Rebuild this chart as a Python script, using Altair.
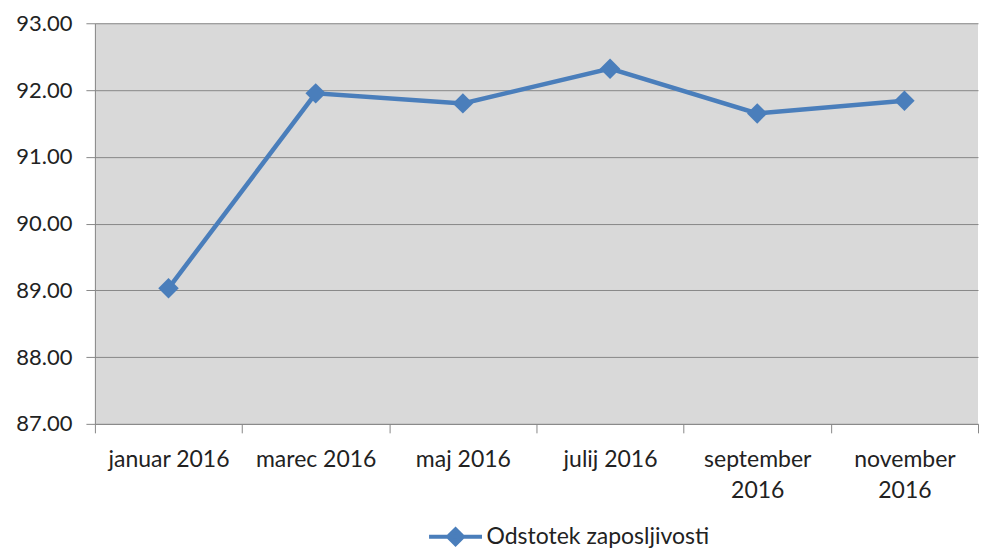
import altair as alt
import pandas as pd

months = ["januar 2016", "marec 2016", "maj 2016", "julij 2016", "september 2016", "november 2016"]
values = [89.03, 91.95, 91.80, 92.32, 91.65, 91.84]
series_name = "Odstotek zaposljivosti"
y_ticks = [87, 88, 89, 90, 91, 92, 93]

df = pd.DataFrame({"month": months, "value": values, "series": [series_name] * len(months)})

BLUE = "#4a7ebb"
FONT = "Lato"

x_enc = alt.X(
    "month:N", sort=months, title=None,
    scale=alt.Scale(paddingInner=0, paddingOuter=0),
    axis=alt.Axis(
        labelAngle=0, tickBand="extent", tickSize=9, tickColor="#888888",
        domainColor="#888888", labelPadding=16, labelFontSize=23, labelFont=FONT,
        labelColor="#222222", labelLineHeight=31, labelBaseline="top",
        labelExpr="length(datum.label) > 11 ? split(datum.label, ' ') : datum.label",
        grid=False,
    ),
)
y_enc = alt.Y(
    "value:Q", title=None,
    scale=alt.Scale(domain=[87, 93], nice=False, zero=False),
    axis=alt.Axis(
        values=y_ticks, format=".2f", tickSize=9, tickColor="#888888",
        domainColor="#888888", gridColor="#888888", gridWidth=1,
        labelPadding=14, labelFontSize=22, labelFont=FONT, labelColor="#222222",
    ),
)

legend = alt.Legend(
    title=None, orient="none", legendX=349, legendY=502,
    symbolType="M-2.65,0 L2.65,0 M-0.75,0 L0,-0.75 L0.75,0 L0,0.75 Z",
    symbolSize=400, labelOffset=19, labelFontSize=23, labelFont=FONT,
    labelColor="#222222", padding=0, labelLimit=0,
    symbolFillColor=BLUE, symbolStrokeColor=BLUE, symbolStrokeWidth=4, symbolOpacity=1,
)

line = alt.Chart(df).mark_line(strokeWidth=4.5).encode(
    x=x_enc, y=y_enc,
    color=alt.Color("series:N", scale=alt.Scale(range=[BLUE]), legend=legend),
)
points = alt.Chart(df).mark_point(shape="diamond", size=420, filled=True, opacity=1, color=BLUE).encode(
    x=x_enc, y=y_enc,
)

chart = (line + points).properties(
    width=884, height=401,
    padding={"left": 7, "top": 4, "right": 0, "bottom": 0},
    background="white",
).configure_view(fill="#d9d9d9", stroke=None)

chart.save("out.html", embed_options={"renderer": "svg", "actions": False})
